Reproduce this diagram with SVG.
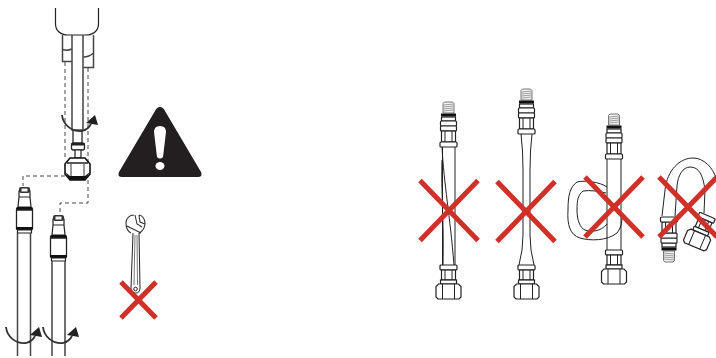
<svg xmlns="http://www.w3.org/2000/svg" width="716" height="358" viewBox="0 0 716 358">
<style>
.l{fill:none;stroke:#222;stroke-width:1}
.p{fill:none;stroke:#444;stroke-width:1.500}
.w{fill:#fff;stroke:#222;stroke-width:1.200}
.d{fill:none;stroke:#333;stroke-width:.9;stroke-dasharray:4 3}
.x{fill:none;stroke:#cf3027;stroke-width:5}
.a{fill:#222}
</style>
<defs>
<g id="top">
<path d="M-5.500 11V1.500L-4 0H4L5.500 1.500V11Z" fill="#f2f2f2" stroke="#555" stroke-width=".8"/>
<path d="M-5 3L5 2M-5 5L5 4M-5 7L5 6M-5 9L5 8" stroke="#888" stroke-width=".8" fill="none"/>
<rect x="-7.500" y="11.500" width="15" height="3" fill="#111"/>
<rect class="w" x="-7" y="15" width="14" height="4"/>
<rect class="w" x="-8" y="19" width="16" height="5" rx="1"/>
<rect class="w" x="-8" y="24" width="16" height="5" rx="1"/>
<rect class="w" x="-7" y="29" width="14" height="11"/>
<path class="l" d="M-3.500 29V40M3.500 29V40"/>
<rect class="w" x="-8.500" y="40" width="17" height="5" rx="1"/>
</g>
<g id="bot">
<rect class="w" x="-8.500" y="0" width="17" height="5" rx="1"/>
<rect class="w" x="-7" y="5" width="14" height="10"/>
<path class="l" d="M-3.500 5V15M3.500 5V15"/>
<rect class="w" x="-8" y="15" width="16" height="4"/>
<path class="w" d="M-10 19H10L12.500 21.500V32L10.500 34H-10.500L-12.500 32V21.500Z"/>
<path class="l" d="M-6 19V34M6 19V34"/>
</g>
<g id="fit">
<path class="w" d="M-5.500 5H5.500V11L6.500 21H-6.500L-5.500 11Z"/>
<rect x="-5.500" y="1" width="11" height="6" rx="2" fill="#333"/>
<rect x="-3" y="2.500" width="6" height="3" fill="#f2f2f2"/>
<path class="l" d="M-5.500 11H5.500"/>
<rect x="-8.500" y="21" width="17" height="4" rx="1.500" fill="#111"/>
<path d="M-8 24H8V42H-8Z" fill="#fff" stroke="#222" stroke-width="1.300"/>
<rect x="-8.500" y="41" width="17" height="3" rx="1" fill="#111"/>
<path class="w" d="M-7 44H7V47H-7Z"/>
</g>
<g id="ar">
<path fill="none" stroke="#333" stroke-width="1.800" d="M0 0C1 10 10 17 20 16C24 15 27 13 29 9"/>
<path class="a" d="M24 8L33 0L36 10Z"/>
</g>
<path id="cross" class="x" d="M0 0L58 60M58 0L0 60"/>
</defs>

<g id="connectors">
<path class="d" d="M65 62V160M88 68V203H60V212M65 176H23V186"/>
</g>

<g id="faucet">
<path class="w" d="M55.500 8V24C55.500 30 60 35 68 35H86C94 35 98.500 30 98.500 24V8"/>
<path class="p" d="M62.500 35V61.500H72M62.500 49.500Q67 51 72 49"/>
<path class="p" d="M93.500 35V67.500H83.500M83.500 57Q89 57 93.500 53"/>
<path class="p" d="M72 35V130H83V35M73 130V143M82 130V143"/>
<use href="#ar" x="62" y="115"/>
<rect x="71.500" y="143" width="13" height="7" rx="2" fill="#fff" stroke="#222" stroke-width="1.300"/>
<rect x="71.500" y="143" width="13" height="2.500" rx="1" fill="#222"/>
<path class="w" d="M75 150H81V158H75Z"/>
<path d="M70 158H85L90 164V174L85 180H70L65 174V164Z" fill="#fff" stroke="#111" stroke-width="1.600"/>
<path d="M65 172L70 180H85L90 172L85 176H70Z" fill="#111"/>
<path d="M67 163H88" stroke="#222" stroke-width="1.500" fill="none"/>
<path d="M71 164V176M84 164V176" stroke="#333" stroke-width="1" fill="none"/>
</g>

<g id="warning">
<path d="M160 107Q163 107 165 111L201 172Q203 177 198 177H122Q117 177 119 172L155 111Q157 107 160 107Z" fill="#231f20"/>
<path d="M154 132Q154 126 160 126Q166 126 166 132L163 157Q160 160 157 157Z" fill="#fff"/>
<ellipse cx="160" cy="166" rx="4.500" ry="4" fill="#fff"/>
</g>

<g id="wrench">
<path class="l" d="M133 233L131 288Q131 293 135.500 293Q140 293 140 288L139 233" stroke="#333"/>
<path d="M135 235L134 285M137 235L137.500 285" stroke="#777" stroke-width="1" fill="none"/>
<path d="M131 233C127 231 126 227 126 223C126 218 130 215 134 215M139 215C142 215 145 219 145 223C145 227 143 231 139 233M127 226L141 233M135 215L137 224L142 227M139 215L140 222L145 224" fill="none" stroke="#333" stroke-width="1.100"/>
<circle cx="135.500" cy="289" r="1.800" fill="#fff" stroke="#222"/>
</g>
<g id="noWrench"><path class="x" d="M121 282L156 318M156 282L121 318"/></g>

<g id="pipe1">
<use href="#fit" x="24.500" y="186"/>
<path class="p" d="M17.500 233V356M30.500 233V356"/>
<use href="#ar" x="6" y="327"/>
</g>
<g id="pipe2">
<use href="#fit" x="58.500" y="214"/>
<path class="p" d="M52 261V356M65 261V356"/>
<use href="#ar" x="43" y="327"/>
</g>

<g id="hose1">
<use href="#top" x="448.500" y="102"/>
<path class="l" d="M442.500 147V265M455 147V265"/>
<path class="l" d="M442 147C444 185 450 215 454 265M442 160C441 190 444 220 443 265" stroke-width=".8"/>
<use href="#bot" x="448.500" y="265"/>
<use href="#cross" x="420" y="180.500"/>
</g>
<g id="hose2">
<use href="#top" x="526.500" y="89"/>
<path class="l" d="M521 134Q523 150 523 170V235Q523 250 519 265M532 134Q530 150 530 170V235Q530 250 534 265"/>
<use href="#bot" x="526.500" y="265"/>
<use href="#cross" x="497" y="181.500"/>
</g>
<g id="hose3">
<path class="l" d="M607 187C600 182 585 180 577 182C570 187 568 195 568 210C567 225 570 235 580 238C590 241 607 241 617 233C621 228 622 222 622 217M606 193C598 191 590 190 583 191C578 195 577 200 577 210C577 220 580 228 585 230C592 232 600 232 607 224"/>
<use href="#top" x="614" y="114"/>
<path class="l" d="M607 159V250M621 159V250"/>
<use href="#bot" x="614" y="250"/>
<use href="#cross" x="585" y="177"/>
</g>
<g id="hose4">
<path class="l" d="M662 216L665 190C667 170 680 158 693 158C704 158 713 168 716 178M675 216L677 186C678 175 683 167 690 167C699 167 703 175 705 190L704 213"/>
<use href="#top" transform="translate(669 262) scale(1 -1)"/>
<use href="#bot" transform="translate(707.500 215.500) rotate(23)"/>
<use href="#cross" x="659" y="177"/>
</g>
</svg>
